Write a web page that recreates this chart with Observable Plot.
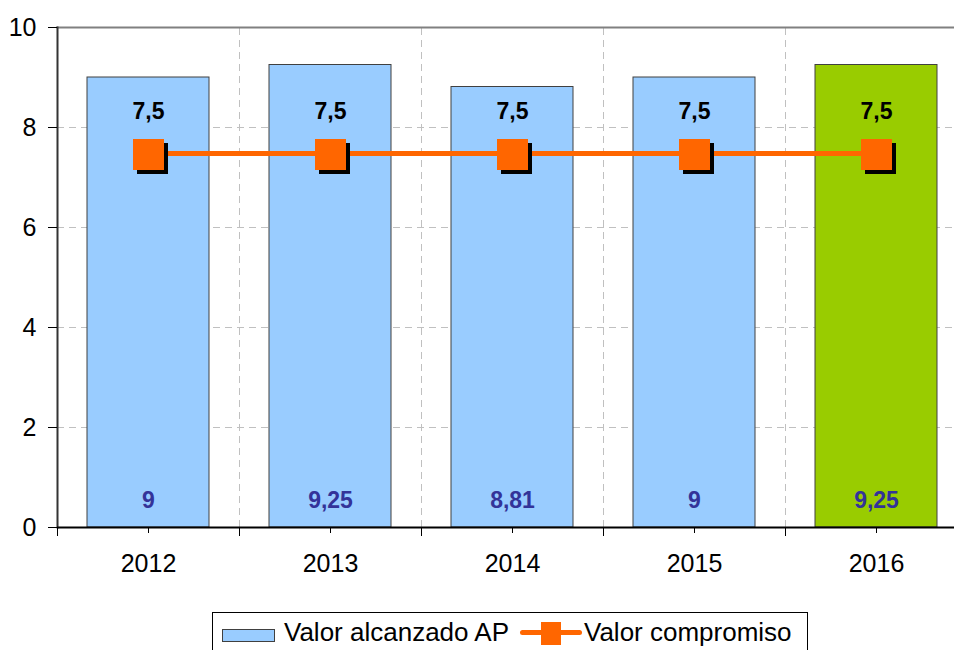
<!DOCTYPE html>
<html><head><meta charset="utf-8">
<script src="https://cdn.jsdelivr.net/npm/d3@7"></script>
<script src="https://cdn.jsdelivr.net/npm/@observablehq/plot@0.6"></script>
<style>
html,body{margin:0;padding:0;background:#fff;overflow:hidden;width:954px;height:650px}
#chart svg{overflow:hidden}
.legend{position:absolute;left:212px;top:612px;width:596px;border:1px solid #000;height:50px;box-sizing:border-box;
 font-family:"Liberation Sans",Arial,sans-serif;font-size:26px;line-height:30px;display:flex;align-items:flex-start;padding:4px 0 0 9px;white-space:nowrap;background:#fff;color:#000}
.sw{display:inline-block;width:53px;height:13px;background:#99CCFF;border:1px solid #404040;box-sizing:border-box;margin-top:12px;margin-right:9px}
.ln{position:relative;display:inline-block;width:62px;height:30px;margin:0 2px 0 11px}
.ln .l{position:absolute;left:0;right:0;top:13px;height:5px;background:#FF6600;border-radius:3px}
.ln .m{position:absolute;left:21px;top:5px;width:20px;height:23px;background:#FF6600}
</style></head>
<body><div id="chart"></div>
<div class="legend"><span class="sw"></span><span>Valor alcanzado AP</span><span class="ln"><span class="l"></span><span class="m"></span></span><span>Valor compromiso</span></div>
<script>
const years = ["2012","2013","2014","2015","2016"];
const alcanzado = [9, 9.25, 8.81, 9, 9.25];
const alcanzadoLabels = ["9","9,25","8,81","9","9,25"];
const compromiso = [7.5, 7.5, 7.5, 7.5, 7.5];
const compromisoLabels = ["7,5","7,5","7,5","7,5","7,5"];
const yTicks = [0,2,4,6,8,10];
const highlightYear = "2016";

const data = years.map((y,i)=>({year:y, a:alcanzado[i], al:alcanzadoLabels[i], c:compromiso[i], cl:compromisoLabels[i]}));

const xOpts = {domain: years, range:[57, 967], paddingInner:0.33, paddingOuter:0.165};
const xs = Plot.scale({x: {type:"band", ...xOpts}});
const half = xs.step/2;
const font = "Liberation Sans, Arial, sans-serif";
const sq = 15.5/Math.sqrt(Math.PI)*2;

const chart = Plot.plot({
  width: 954, height: 600,
  marginTop: 27, marginBottom: 73, marginLeft: 57, marginRight: 0,
  style: {fontFamily: font, background:"#fff"},
  x: {...xOpts, label: null},
  y: {domain:[0,10], ticks: yTicks, label: null},
  marks: [
    Plot.gridY(yTicks.filter(d=>d>0 && d<10), {stroke:"#c0c0c0", strokeOpacity:1, strokeDasharray:"7,5"}),
    Plot.ruleX(data, {x:"year", y1:0, y2:10, dx: half, stroke:"#c0c0c0", strokeDasharray:"7,5"}),
    Plot.barY(data, {x:"year", y:"a", fill: d=> d.year===highlightYear ? "#99CC00" : "#99CCFF", stroke:"#404040", strokeWidth:1}),
    Plot.frame({anchor:"top", stroke:"#808080", strokeWidth:2}),
    Plot.frame({anchor:"left", stroke:"#333", strokeWidth:2}),
    Plot.ruleY([0], {stroke:"#000", strokeWidth:2}),
    Plot.axisY({ticks: yTicks, tickSize:9, tickPadding:12, fontSize:25, stroke:"#000", fill:"#000", tickFormat: d=>String(d)}),
    Plot.axisX({tickSize:6, tickPadding:21, fontSize:25, stroke:"#000", fill:"#000"}),
    Plot.axisX({tickSize:9, text:null, dx: half, stroke:"#000"}),
    Plot.axisX([years[0]], {tickSize:9, text:null, dx: -half, stroke:"#000"}),
    Plot.lineY(data, {x:"year", y:"c", stroke:"#FF6600", strokeWidth:5, dy:1}),
    Plot.dot(data, {x:"year", y:"c", symbol:"square", r:sq, fill:"#000", dx:4, dy:6}),
    Plot.dot(data, {x:"year", y:"c", symbol:"square", r:sq, fill:"#FF6600", dy:2}),
    Plot.text(data, {x:"year", y:"c", text:"cl", dy:-41, fontSize:23, fontWeight:"bold", fill:"#000"}),
    Plot.text(data, {x:"year", y:0, text:"al", dy:-27, fontSize:23, fontWeight:"bold", fill:"#333399"})
  ]
});
document.getElementById("chart").appendChild(chart);
</script></body></html>
